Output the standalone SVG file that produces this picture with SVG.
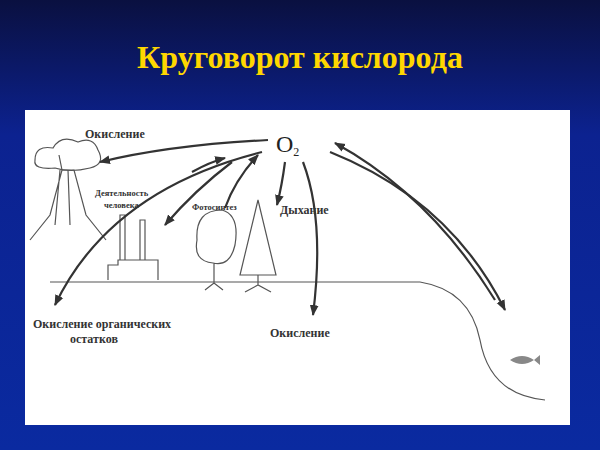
<svg xmlns="http://www.w3.org/2000/svg" width="600" height="450" viewBox="0 0 600 450">
<defs>
<linearGradient id="bg" x1="0" y1="0" x2="0" y2="1"><stop offset="0" stop-color="#0a1040"/><stop offset="0.3" stop-color="#0c2290"/><stop offset="1" stop-color="#0a2aa0"/></linearGradient>
<marker id="ah" viewBox="0 0 10 10" refX="9" refY="5" markerWidth="5" markerHeight="5" orient="auto"><path d="M0,1 L10,5 L0,9 Z" fill="#333"/></marker>
</defs>
<style>
.c{fill:none;stroke:#333;stroke-width:2.2;marker-end:url(#ah)}
.t{font-family:"Liberation Serif",serif;font-size:12px;font-weight:bold;fill:#333}
.s{font-family:"Liberation Serif",serif;font-size:8.5px;font-weight:bold;fill:#333}
.d{fill:none;stroke:#555;stroke-width:1.2}
</style>
<rect width="600" height="450" fill="url(#bg)"/>
<text x="300" y="68" text-anchor="middle" font-family="Liberation Serif,serif" font-weight="bold" font-size="32" fill="#ffd700">Круговорот кислорода</text>
<rect x="25" y="110" width="545" height="315" fill="#fff"/>
<g id="scene">
<path class="d" d="M50,282 H420 Q470,290 480,340 Q490,395 545,400" stroke-width="1.5"/>
<path class="d" d="M30,240 l20,-25 l12,-45 l12,0 l12,45 l20,25 M55,225 l5,-55 M70,225 l-2,-55 M62,170 l-3,-15"/>
<path class="d" d="M35,160 q0,-15 18,-12 q8,-14 25,-6 q15,-6 20,8 q8,14 -8,18 q-20,5 -35,0 q-22,2 -20,-8z"/>
<path class="d" d="M108,280 v-15 h10 v-5 h40 v20 M120,260 v-45 h5 v45 M140,260 v-40 h5 v40"/>
<path class="d" d="M197,240 q-2,-30 25,-30 q18,5 13,35 q-5,22 -22,18 q-20,-2 -16,-23z M214,263 v20 M205,290 l9,-7 l9,7"/>
<path class="d" d="M258,200 l-18,75 h36 z M258,275 v10 M245,292 l13,-7 l13,7"/>
<path d="M510,360 q12,-8 24,0 l6,-5 v10 l-6,-5 q-12,8 -24,0z" fill="#888"/>
</g>
<g id="O2"><text x="276" y="152" font-family="Liberation Serif,serif" font-size="24" fill="#222">O<tspan font-size="12" dy="4">2</tspan></text></g>
<g id="connectors">
<path class="c" d="M268,140 Q170,145 100,162"/>
<path class="c" d="M232,162 Q195,190 165,225"/>
<path class="c" d="M192,172 Q210,162 225,158"/>
<path class="c" d="M225,208 Q235,180 258,155"/>
<path class="c" d="M285,162 Q282,185 277,205"/>
<path class="c" d="M303,162 Q325,220 313,315"/>
<path class="c" d="M262,152 Q110,190 55,305"/>
<path class="c" d="M330,152 Q450,200 505,310"/>
<path class="c" d="M495,300 Q430,195 335,143"/>
</g>
<g id="labels">
<text class="t" x="85" y="138">Окисление</text>
<text class="s" x="95" y="196">Деятельность</text>
<text class="s" x="104" y="208">человека</text>
<text class="s" x="192" y="210">Фотосинтез</text>
<text class="t" x="280" y="214">Дыхание</text>
<text class="t" x="33" y="328">Окисление органических</text>
<text class="t" x="70" y="343">остатков</text>
<text class="t" x="270" y="337">Окисление</text>
</g>
</svg>
